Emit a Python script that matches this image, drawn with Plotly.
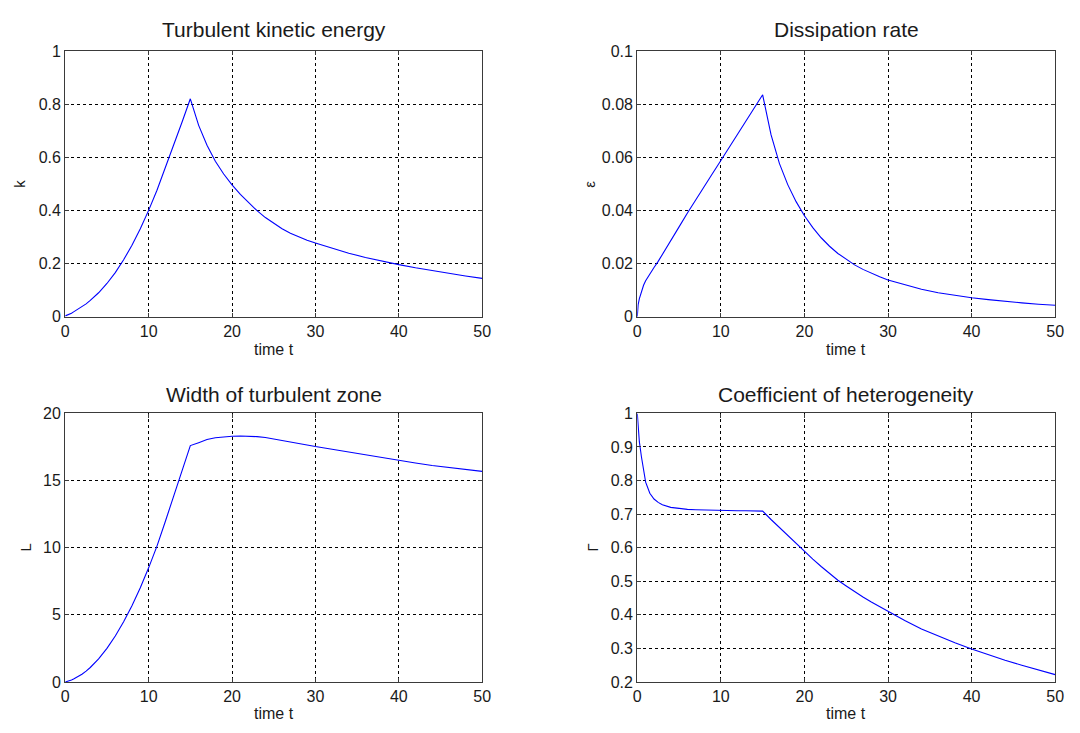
import plotly.graph_objects as go

# Common time samples (finer near t = 0 where Gamma and epsilon change fast)
t = [0, 0.1, 0.25, 0.5, 0.75, 1, 1.5, 2, 2.5, 3,
     4, 5, 6, 7, 8, 9, 10, 11, 12, 13, 14, 15, 16, 17, 18, 19, 20,
     21, 22, 23, 24, 25, 26, 27, 28, 29, 30,
     32, 34, 36, 38, 40, 42, 44, 46, 48, 50]

# Turbulent kinetic energy k(t)
k_vals = [0.003, 0.004, 0.006, 0.009, 0.013, 0.018, 0.027, 0.037, 0.048, 0.061,
          0.09, 0.125, 0.166, 0.214, 0.269, 0.331, 0.40, 0.476, 0.559, 0.645, 0.732, 0.82,
          0.72, 0.645, 0.585, 0.537, 0.496,
          0.46, 0.428, 0.399, 0.373, 0.351, 0.331, 0.314, 0.30, 0.288, 0.277,
          0.257, 0.239, 0.223, 0.209, 0.196, 0.184, 0.173, 0.163, 0.153, 0.144]

# Dissipation rate epsilon(t)
eps_vals = [0.0, 0.0045, 0.0068, 0.0095, 0.0118, 0.0135, 0.0162, 0.0185, 0.0208, 0.0235,
            0.0285, 0.0338, 0.039, 0.0441, 0.049, 0.0539, 0.0588, 0.0637, 0.0687, 0.0736, 0.0786, 0.0835,
            0.0685, 0.0577, 0.0497, 0.0433, 0.038,
            0.0335, 0.0297, 0.0265, 0.0238, 0.0215, 0.0195, 0.0178, 0.0163, 0.015, 0.0138,
            0.0119, 0.0103, 0.009, 0.008, 0.0071, 0.0064, 0.0057, 0.0052, 0.0047, 0.0043]

# Width of turbulent zone L(t)
L_vals = [0.0, 0.016, 0.042, 0.093, 0.152, 0.22, 0.383, 0.58, 0.81, 1.08,
          1.72, 2.5, 3.42, 4.48, 5.68, 7.02, 8.5, 10.12, 11.95, 13.8, 15.7, 17.6,
          17.82, 18.05, 18.18, 18.26, 18.3,
          18.31, 18.3, 18.27, 18.2, 18.1, 18.0, 17.9, 17.78, 17.65, 17.53,
          17.32, 17.1, 16.9, 16.68, 16.47, 16.3, 16.12, 15.96, 15.82, 15.68]

# Coefficient of heterogeneity Gamma(t)
gamma_vals = [1.0, 0.95, 0.915, 0.87, 0.825, 0.795, 0.762, 0.745, 0.735, 0.728,
              0.72, 0.716, 0.714, 0.713, 0.712, 0.711, 0.711, 0.71, 0.71, 0.71, 0.709, 0.709,
              0.684, 0.66, 0.636, 0.612, 0.589,
              0.566, 0.544, 0.523, 0.503, 0.486, 0.469, 0.453, 0.438, 0.424, 0.41,
              0.383, 0.358, 0.337, 0.317, 0.298, 0.281, 0.265, 0.25, 0.236, 0.222]

x_ticks = [0, 10, 20, 30, 40, 50]

panels = [
    dict(title="Turbulent kinetic energy", ylabel="k", y=k_vals,
         yrange=[0, 1], yticks=[0, 0.2, 0.4, 0.6, 0.8, 1],
         ytext=["0", "0.2", "0.4", "0.6", "0.8", "1"]),
    dict(title="Dissipation rate", ylabel="ε", y=eps_vals,
         yrange=[0, 0.1], yticks=[0, 0.02, 0.04, 0.06, 0.08, 0.1],
         ytext=["0", "0.02", "0.04", "0.06", "0.08", "0.1"]),
    dict(title="Width of turbulent zone", ylabel="L", y=L_vals,
         yrange=[0, 20], yticks=[0, 5, 10, 15, 20],
         ytext=["0", "5", "10", "15", "20"]),
    dict(title="Coefficient of heterogeneity", ylabel="Γ", y=gamma_vals,
         yrange=[0.2, 1], yticks=[0.2, 0.3, 0.4, 0.5, 0.6, 0.7, 0.8, 0.9, 1],
         ytext=["0.2", "0.3", "0.4", "0.5", "0.6", "0.7", "0.8", "0.9", "1"]),
]

W, H = 1080, 733
# pixel boxes of the four axes: (left, right, top, bottom)
boxes = [(62, 484, 44, 316), (641, 1064, 44, 316),
         (62, 484, 415, 690), (641, 1064, 415, 690)]
title_y = [22, 22, 396, 396]
xlabel_y = [350, 350, 722, 722]
ylabel_x = [16, 593, 22, 596]

FONT = "Liberation Sans, Arial, sans-serif"
TXT = "#1a1a1a"
FRAME = "#3a3a3a"

fig = go.Figure()
annotations = []
layout = {}

for i, (p, b) in enumerate(zip(panels, boxes)):
    n = "" if i == 0 else str(i + 1)
    l, r, top, bot = b
    fig.add_trace(go.Scatter(x=t, y=p["y"], mode="lines",
                             line=dict(color="#0000ff", width=1.1),
                             xaxis="x" + n, yaxis="y" + n, showlegend=False,
                             cliponaxis=True))
    common = dict(showgrid=True, gridcolor="black", griddash="3px,3px", gridwidth=1,
                  showline=True, mirror="ticks", linecolor=FRAME, linewidth=1.3,
                  ticks="inside", ticklen=4, tickcolor=FRAME, zeroline=False,
                  tickfont=dict(family=FONT, size=16, color=TXT), fixedrange=True)
    layout["xaxis" + n] = dict(common, domain=[l / W, r / W], anchor="y" + n,
                               range=[0, 50], tickvals=x_ticks,
                               ticktext=[str(v) for v in x_ticks])
    layout["yaxis" + n] = dict(common, domain=[1 - bot / H, 1 - top / H], anchor="x" + n,
                               range=p["yrange"], tickvals=p["yticks"], ticktext=p["ytext"])
    cx = (l + r) / 2 / W
    annotations.append(dict(text=p["title"], x=cx, y=1 - title_y[i] / H, xref="paper", yref="paper",
                            xanchor="center", yanchor="middle", showarrow=False,
                            font=dict(family=FONT, size=21, color=TXT)))
    annotations.append(dict(text="time t", x=cx, y=1 - xlabel_y[i] / H, xref="paper", yref="paper",
                            xanchor="center", yanchor="middle", showarrow=False,
                            font=dict(family=FONT, size=16, color=TXT)))
    annotations.append(dict(text=p["ylabel"], x=ylabel_x[i] / W, y=1 - (top + bot) / 2 / H,
                            xref="paper", yref="paper", textangle=-90,
                            xanchor="center", yanchor="middle", showarrow=False,
                            font=dict(family=FONT, size=15, color=TXT)))

fig.update_layout(width=W, height=H, margin=dict(l=0, r=0, t=0, b=0),
                  paper_bgcolor="white", plot_bgcolor="white",
                  annotations=annotations, **layout)

fig.write_html("out.html", config={"displayModeBar": False})
